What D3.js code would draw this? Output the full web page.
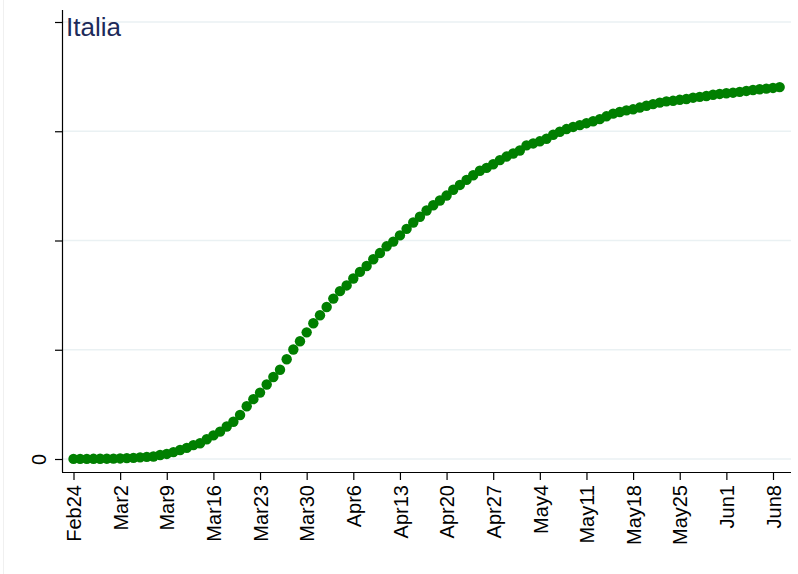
<!DOCTYPE html>
<html>
<head>
<meta charset="utf-8">
<script src="https://cdn.jsdelivr.net/npm/d3@7"></script>
<style>
  body { margin: 0; background: #fff; }
  text { font-family: "Liberation Sans", Arial, sans-serif; }
</style>
</head>
<body>
<svg></svg>
<script>
  const width = 798;
  const height = 574;

  // cumulative deaths, one value per day from Feb 24 to Jun 9
  const startDate = '2020-02-24';
  const deaths = [7,10,12,17,21,29,34,52,79,107,148,197,233,366,463,631,827,1016,1266,1441,
    1809,2158,2503,2978,3405,4032,4825,5476,6077,6820,7503,8165,9134,10023,10779,11591,12428,
    13155,13915,14681,15362,15887,16523,17127,17669,18279,18849,19468,19899,20465,21067,21645,
    22170,22745,23227,23660,24114,24648,25085,25549,25969,26384,26644,26977,27359,27682,27967,
    28236,28710,28884,29079,29315,29684,29958,30201,30395,30560,30739,30911,31106,31368,31610,
    31763,31908,32007,32169,32330,32486,32616,32735,32785,32877,32955,33072,33142,33229,33340,
    33415,33475,33530,33601,33689,33774,33846,33899,33964,34043];
  const yTicks = [0, 10000, 20000, 30000, 40000];
  const xTickDates = ['2020-02-24','2020-03-02','2020-03-09','2020-03-16','2020-03-23','2020-03-30',
    '2020-04-06','2020-04-13','2020-04-20','2020-04-27','2020-05-04','2020-05-11','2020-05-18',
    '2020-05-25','2020-06-01','2020-06-08'];
  const title = 'Italia';

  const parse = d3.utcParse('%Y-%m-%d');
  const t0 = parse(startDate);
  const data = deaths.map((v, i) => ({ date: d3.utcDay.offset(t0, i), value: v }));
  const ticks = xTickDates.map(parse);

  const plotL = 62, plotR = 791, plotT = 10, plotB = 472;

  const svg = d3.select('svg').attr('width', width).attr('height', height);

  svg.append('line')
    .attr('x1', 3.5).attr('x2', 3.5).attr('y1', 0).attr('y2', height)
    .attr('stroke', '#f0f0f0');

  const x = d3.scaleUtc().domain([ticks[0], ticks[ticks.length - 1]]).range([73.5, 773]);
  const y = d3.scaleLinear().domain([0, 40000]).range([459, 22]);

  // gridlines
  svg.append('g').selectAll('line').data(yTicks).enter().append('line')
    .attr('x1', plotL).attr('x2', plotR)
    .attr('y1', d => y(d)).attr('y2', d => y(d))
    .attr('stroke', '#eaf1f3').attr('stroke-width', 1.5);

  // y axis
  const ya = svg.append('g').attr('transform', `translate(${plotL},0)`)
    .call(d3.axisLeft(y).tickValues(yTicks).tickSize(7).tickFormat(d => d === 0 ? '0' : ''));
  ya.select('.domain').attr('d', `M0.5,${plotT}V${plotB}`).attr('stroke', '#000').attr('stroke-width', 1.2);
  ya.selectAll('.tick line').attr('stroke', '#000').attr('stroke-width', 1.2);
  ya.selectAll('.tick text')
    .attr('font-size', 20).attr('fill', '#000')
    .attr('x', null).attr('dy', null)
    .attr('text-anchor', 'middle')
    .attr('transform', 'translate(-16.5,0) rotate(-90)');

  // x axis
  const xa = svg.append('g').attr('transform', `translate(0,${plotB})`)
    .call(d3.axisBottom(x).tickValues(ticks).tickSize(8).tickFormat(d3.utcFormat('%b%-d')));
  xa.select('.domain').attr('d', `M${plotL},0.5H${plotR}`).attr('stroke', '#000').attr('stroke-width', 1.2);
  xa.selectAll('.tick line').attr('stroke', '#000').attr('stroke-width', 1.2);
  xa.selectAll('.tick text')
    .attr('font-size', 20).attr('fill', '#000')
    .attr('y', null).attr('dy', '0.36em')
    .attr('text-anchor', 'end')
    .attr('transform', 'translate(0,13) rotate(-90)');

  // dots
  svg.append('g').selectAll('circle').data(data).enter().append('circle')
    .attr('cx', d => x(d.date))
    .attr('cy', d => y(d.value))
    .attr('r', 5.2)
    .attr('fill', '#007f00');

  svg.append('text')
    .attr('x', 66).attr('y', 36)
    .attr('font-size', 26)
    .attr('fill', '#1c2a5a')
    .text(title);
</script>
</body>
</html>
